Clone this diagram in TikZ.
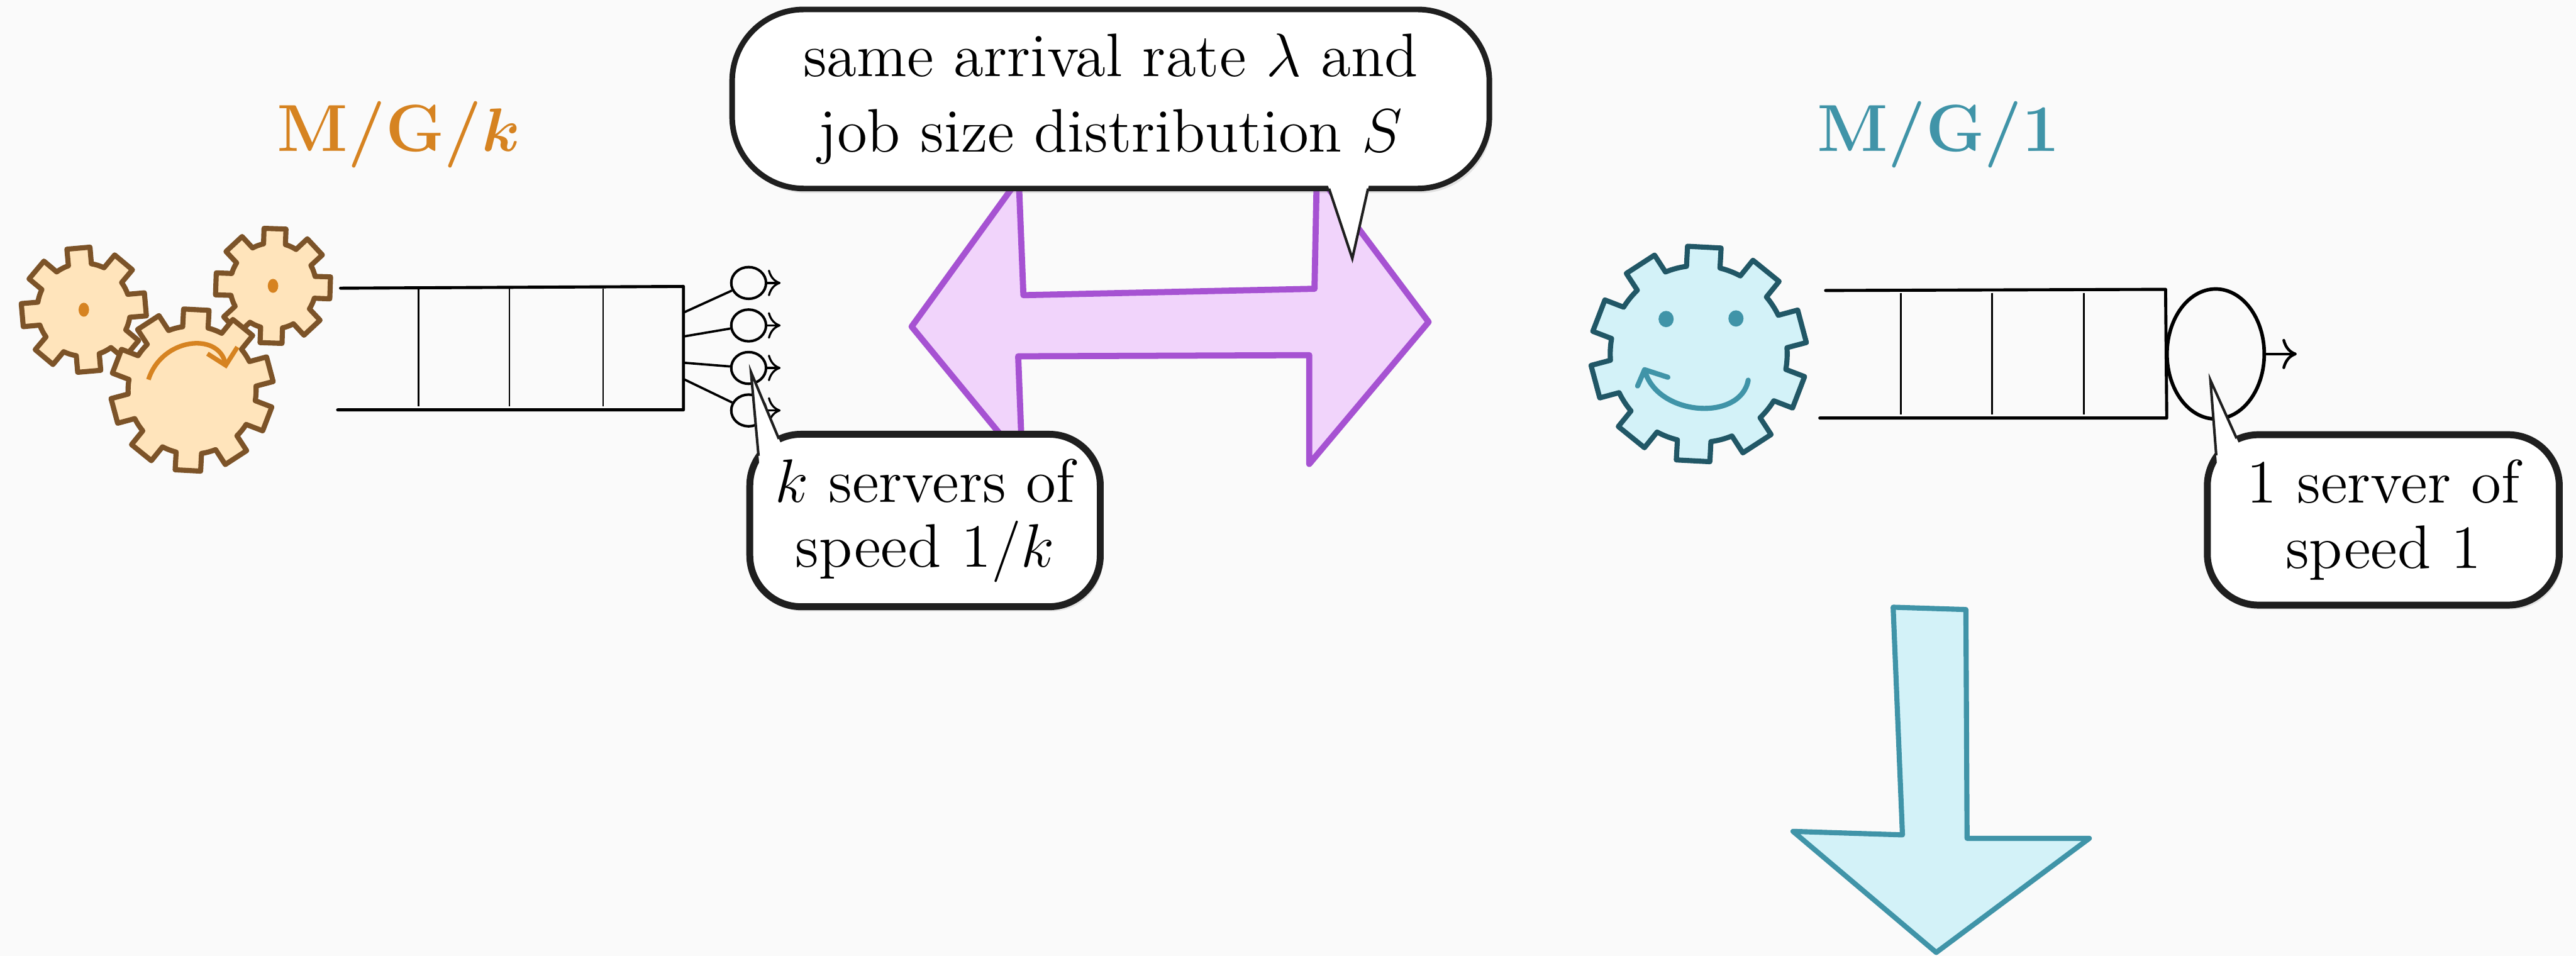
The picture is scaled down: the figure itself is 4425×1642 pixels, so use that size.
\documentclass[tikz,border=0pt]{standalone}
\usepackage{amsmath}
\usetikzlibrary{shapes.geometric,shadows,calc,arrows.meta}

\definecolor{pagebg}{RGB}{250,250,250}
\definecolor{mgkorange}{RGB}{214,131,33}
\definecolor{cogfill}{RGB}{255,228,187}
\definecolor{cogline}{RGB}{124,83,40}
\definecolor{mgteal}{RGB}{64,148,168}
\definecolor{bluefill}{RGB}{211,242,248}
\definecolor{blueline}{RGB}{33,87,102}
\definecolor{lilacfill}{RGB}{241,212,251}
\definecolor{lilacline}{RGB}{166,82,210}

% centre, body radius, tip radius, teeth, turn, half tooth width, style
\newcommand{\cogwheel}[7]{%
  \begin{scope}[shift={(#1)}]
    \pgfmathsetmacro{\cogstep}{360/#4}
    \pgfmathsetmacro{\cogbw}{deg(#6/#2)}
    \pgfmathsetmacro{\cogtw}{deg(#6/#3)}
    \draw[#7] ({#5-\cogbw}:#2)
      \foreach \cogi in {1,...,#4}{
        -- ({#5+(\cogi-1)*\cogstep-\cogtw}:#3)
        -- ({#5+(\cogi-1)*\cogstep+\cogtw}:#3)
        -- ({#5+(\cogi-1)*\cogstep+\cogbw}:#2)
        arc[start angle={#5+(\cogi-1)*\cogstep+\cogbw}, end angle={#5+\cogi*\cogstep-\cogbw}, radius=#2]
      } -- cycle;
  \end{scope}}

% tip, then the two points where the tail meets the bubble
\newcommand{\bubbletail}[3]{%
  \fill[white] ($(#1)!1.25!(#2)$) -- (#1) -- ($(#1)!1.25!(#3)$) -- cycle;
  \draw[tail] (#2) -- (#1) -- (#3);}

\begin{document}
\begin{tikzpicture}[x=0.04mm, y=0.04mm,
  cog/.style={draw=cogline, fill=cogfill, line width=1pt, line join=round},
  bluecog/.style={draw=blueline, fill=bluefill, line width=1pt, line join=round},
  queueline/.style={line width=0.6pt, line cap=round, line join=round},
  slot/.style={line width=0.35pt},
  server/.style={ellipse, draw, inner sep=0pt, line width=0.5pt},
  bubble/.style={draw=black!88, line width=1.35pt, fill=white, align=center, inner sep=0pt,
    font=\fontsize{12}{12.7}\selectfont,
    drop shadow={opacity=0.18, shadow xshift=0.5pt, shadow yshift=-0.9pt}},
  tail/.style={draw=black!88, line width=0.5pt},
  title/.style={font=\fontsize{13}{16}\selectfont\bfseries\boldmath, anchor=base}]

  \useasboundingbox (0,0) rectangle (4425,1642);
  \fill[pagebg] (0,0) rectangle (4425,1642);

  \node[title, text=mgkorange] (mgk) at (685,1382) {M/G/$k$};
  \node[title, text=mgteal] (mg1) at (3330,1382) {M/G/1};

  \cogwheel{144,1110}{80}{108}{8}{95}{20}{cog}
  \cogwheel{469,1151}{74}{100}{8}{88}{19}{cog}
  \fill[mgkorange] (144,1110) ellipse[x radius=9, y radius=12];
  \fill[mgkorange] (469,1151) ellipse[x radius=9, y radius=12];
  \cogwheel{330,972}{110}{140}{10}{87}{22}{cog}
  \draw[mgkorange, line width=0.9pt, -{Straight Barb[length=3pt]}]
    (255,990) .. controls (278,1062) and (375,1072) .. (389,1009);

  \draw[queueline] (585,1147) -- (1174,1150) -- (1174,938) -- (580,938);
  \foreach \x in {719,875,1036} \draw[slot] (\x,1146) -- (\x,944);
  \foreach \i/\qy/\sy in {1/1105/1156, 2/1064/1083, 3/1019/1010, 4/991/937} {
    \coordinate (q\i) at (1174,\qy);
    \node[server, minimum width=6.8pt, minimum height=6.2pt] (s\i) at (1286,\sy) {};
    \coordinate (o\i) at ([xshift=2.6pt]s\i.east);
    \draw[line width=0.45pt] (q\i) -- (s\i);
    \draw[->, line width=0.4pt] (s\i) -- (o\i);
  }

  \draw[draw=lilacline, fill=lilacfill, line width=1.2pt, line join=round]
    (1566,1081) -- (1750,1335) -- (1758,1135) -- (2258,1146) -- (2262,1345)
    -- (2454,1089) -- (2249,845) -- (2249,1032) -- (1749,1030) -- (1756,850) -- cycle;

  \node[bubble, line width=1.1pt, font=\fontsize{12}{14.7}\selectfont, minimum width=148pt,
    minimum height=35pt, rounded corners=14pt] (samerate) at (1908,1472)
    {same arrival rate $\lambda$ and\\ job size distribution $S$};
  \coordinate (ratetip) at (2323,1198);
  \coordinate (rateb1) at (2283,1318);
  \coordinate (rateb2) at (2350,1318);
  \bubbletail{ratetip}{rateb1}{rateb2}

  \node[bubble, minimum width=68.5pt, minimum height=33.7pt, rounded corners=10pt]
    (kspeed) at (1589,748) {$k$ servers of\\ speed $1/k$};
  \coordinate (ktip) at (1290,1003);
  \coordinate (kb1) at (1303,859);
  \coordinate (kb2) at (1338,888);
  \bubbletail{ktip}{kb1}{kb2}

  \cogwheel{2918,1034}{152}{186}{10}{87}{29}{bluecog}
  \fill[mgteal] (2862,1094) ellipse[x radius=13, y radius=14];
  \fill[mgteal] (2982,1095) ellipse[x radius=13, y radius=14];
  \draw[mgteal, line width=1pt, line cap=round, line join=round]
    (2813,979) -- (2825,1007) -- (2865,994)
    (2825,1007) .. controls (2845,927) and (2990,917) .. (3003,989);

  \draw[queueline] (3136,1143) -- (3720,1145) -- (3722,924) -- (3126,924);
  \foreach \x in {3265,3422,3580} \draw[slot] (\x,1139) -- (\x,930);
  \node[server, line width=0.7pt, minimum width=19pt, minimum height=25.4pt] (bigserver) at (3806,1034) {};
  \coordinate (bigout) at ([xshift=6pt]bigserver.east);
  \draw[->, line width=0.55pt] (bigserver) -- (bigout);

  \node[bubble, minimum width=68.8pt, minimum height=33.3pt, rounded corners=10pt]
    (onespeed) at (4094,749) {1 server of\\ speed 1};
  \coordinate (onetip) at (3797,989);
  \coordinate (oneb1) at (3807,860);
  \coordinate (oneb2) at (3842,889);
  \bubbletail{onetip}{oneb1}{oneb2}

  \draw[draw=mgteal, fill=bluefill, line width=1pt, line join=round]
    (3252,599) -- (3377,595) -- (3379,202) -- (3589,202) -- (3326,6)
    -- (3080,214) -- (3268,208) -- cycle;
\end{tikzpicture}
\end{document}
